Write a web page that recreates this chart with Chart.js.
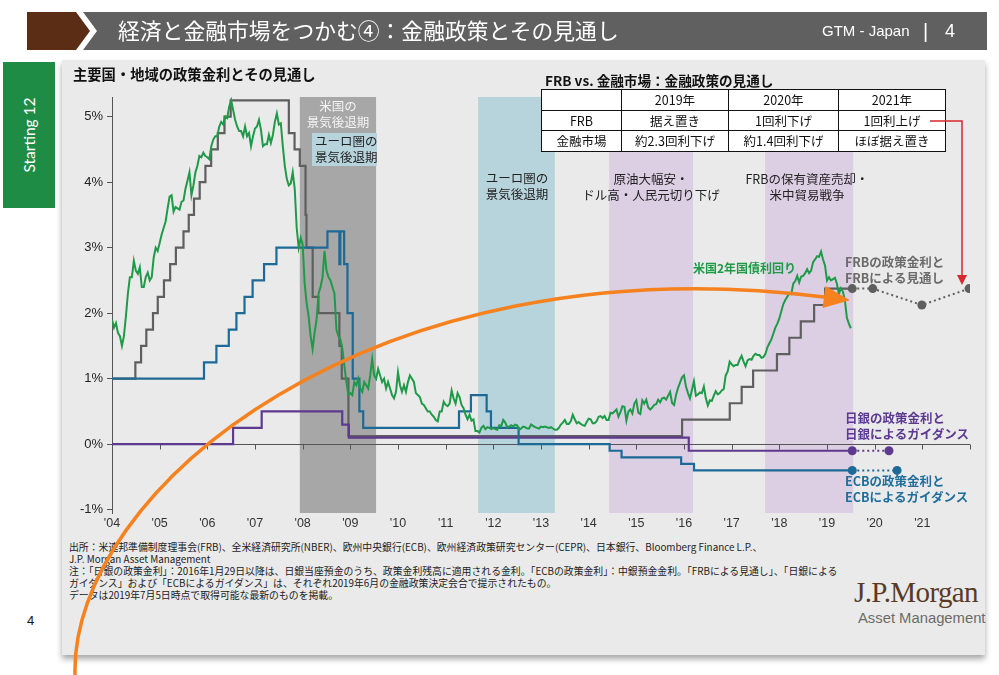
<!DOCTYPE html>
<html><head><meta charset="utf-8">
<script src="https://cdn.jsdelivr.net/npm/chart.js@4.4.0/dist/chart.umd.min.js"></script>
<style>
html,body{margin:0;padding:0;background:#fff;width:999px;height:675px;overflow:hidden;font-family:"Noto Sans CJK JP","Noto Sans",sans-serif;}
.abs{position:absolute;white-space:nowrap;}
#panel{position:absolute;left:62px;top:60px;width:923px;height:595px;background:#eaeaea;box-shadow:0 4px 6px rgba(0,0,0,0.35);z-index:0}
#chart{position:absolute;left:0;top:0;z-index:2}
.hi{z-index:4}
.fn{position:absolute;left:69px;font-size:9.85px;line-height:12px;color:#222;white-space:nowrap;z-index:1}
#tbl{position:absolute;left:541px;top:89px;border-collapse:collapse;background:#fff;z-index:4;font-size:12.5px;color:#111}
#tbl td{border:1.3px solid #111;height:19.5px;padding:0;text-align:center;line-height:19px}
.ann{position:absolute;white-space:nowrap;font-size:12.5px;line-height:16px;z-index:4}
</style></head>
<body>
<svg class="abs" style="left:0;top:0;z-index:5" width="999" height="60">
  <polygon points="27,12 76,12 90,31 76,50 27,50" fill="#5b2d14"/>
  <polygon points="83,12 987,12 987,50 83,50 97,31" fill="#606060"/>
</svg>
<div class="abs" style="left:118px;top:16px;font-size:21.8px;line-height:28px;color:#fff;z-index:6">経済と金融市場をつかむ④：金融政策とその見通し</div>
<div class="abs" style="left:822px;top:21px;font-size:15px;line-height:20px;color:#fff;z-index:6;font-family:'Liberation Sans Narrow','Liberation Sans',sans-serif">GTM - Japan</div>
<div class="abs" style="left:923px;top:19px;font-size:20px;line-height:24px;color:#fff;z-index:6;font-family:'Liberation Sans',sans-serif">|</div>
<div class="abs" style="left:945px;top:19px;font-size:18px;line-height:24px;color:#fff;z-index:6;font-family:'Liberation Sans Narrow','Liberation Sans',sans-serif">4</div>

<div class="abs" style="left:3px;top:62px;width:52px;height:146px;background:#1f8c46;z-index:3"></div>
<div class="abs" style="left:29px;top:135px;transform:translate(-50%,-50%) rotate(-90deg);font-family:Lato,sans-serif;font-size:15.5px;color:#fff;z-index:4">Starting 12</div>
<div class="abs" style="left:27px;top:613px;font-size:13px;color:#111;font-family:'Liberation Sans',sans-serif">4</div>

<div id="panel"></div>

<div class="abs" style="left:73px;top:64px;font-size:14.3px;line-height:20px;font-weight:bold;color:#111;z-index:4">主要国・地域の政策金利とその見通し</div>

<div class="fn" style="top:541px">出所：米連邦準備制度理事会(FRB)、全米経済研究所(NBER)、欧州中央銀行(ECB)、欧州経済政策研究センター(CEPR)、日本銀行、Bloomberg Finance L.P.、</div>
<div class="fn" style="top:553px">J.P. Morgan Asset Management</div>
<div class="fn" style="top:565px">注：「日銀の政策金利」：2016年1月29日以降は、日銀当座預金のうち、政策金利残高に適用される金利。「ECBの政策金利」：中銀預金金利。「FRBによる見通し」、「日銀による</div>
<div class="fn" style="top:577px">ガイダンス」および「ECBによるガイダンス」は、それぞれ2019年6月の金融政策決定会合で提示されたもの。</div>
<div class="fn" style="top:589px">データは2019年7月5日時点で取得可能な最新のものを掲載。</div>

<div class="abs" style="left:854px;top:574px;font-family:'Liberation Serif','DejaVu Serif',serif;font-size:29px;line-height:36px;color:#5a3a26;z-index:1;letter-spacing:-0.6px">J.P.Morgan</div>
<div class="abs" style="left:858px;top:609px;font-family:'Liberation Sans',sans-serif;font-size:14.8px;line-height:18px;color:#6b6b6b;z-index:1">Asset Management</div>

<canvas id="chart" width="999" height="675"></canvas>

<div class="abs hi" style="left:545px;top:71px;font-size:13.6px;line-height:18px;font-weight:bold;color:#111">FRB vs. 金融市場：金融政策の見通し</div>
<table id="tbl">
<tr><td style="width:79px"></td><td style="width:106px">2019年</td><td style="width:109px">2020年</td><td style="width:106px">2021年</td></tr>
<tr><td>FRB</td><td>据え置き</td><td>1回利下げ</td><td>1回利上げ</td></tr>
<tr><td>金融市場</td><td>約2.3回利下げ</td><td>約1.4回利下げ</td><td>ほぼ据え置き</td></tr>
</table>

<div class="ann" style="left:338px;top:98px;transform:translateX(-50%);text-align:center;color:#f4f4f4;">米国の<br>景気後退期</div>
<div class="ann" style="left:312px;top:133px;width:65px;height:33px;background:#b7d4dc;color:#222;padding-left:3px;box-sizing:border-box;line-height:15.5px;font-size:12.5px">ユーロ圏の<br>景気後退期</div>
<div class="ann" style="left:517px;top:170px;transform:translateX(-50%);text-align:center;color:#222">ユーロ圏の<br>景気後退期</div>
<div class="ann" style="left:651px;top:171px;transform:translateX(-50%);text-align:center;color:#222">原油大幅安・<br>ドル高・人民元切り下げ</div>
<div class="ann" style="left:807px;top:171px;transform:translateX(-50%);text-align:center;color:#222">FRBの保有資産売却・<br>米中貿易戦争</div>
<div class="ann" style="left:693px;top:260px;color:#1f9a48;font-weight:bold;font-size:12px">米国2年国債利回り</div>
<div class="ann" style="left:845px;top:254px;color:#6b6b6b;font-weight:bold">FRBの政策金利と<br>FRBによる見通し</div>
<div class="ann" style="left:845px;top:410px;color:#5b3990;font-weight:bold">日銀の政策金利と<br>日銀によるガイダンス</div>
<div class="ann" style="left:845px;top:473px;color:#1f6e9c;font-weight:bold">ECBの政策金利と<br>ECBによるガイダンス</div>

<svg class="abs" style="left:0;top:0;z-index:6;pointer-events:none" width="999" height="675">
  <polyline points="930,121 962,121 962,276" fill="none" stroke="#d7282f" stroke-width="1.5"/>
  <polygon points="957,275 967,275 962,285" fill="#d7282f"/>
</svg>

<script>
// ---------- DATA ----------
const xTickLabels = ["'04","'05","'06","'07","'08","'09","'10","'11","'12","'13","'14","'15","'16","'17","'18","'19","'20","'21"];

// Fed funds target (decimal year of change, new rate %)
const fedDates = [2004.0,2004.49,2004.61,2004.72,2004.86,2004.96,2005.09,2005.22,2005.34,2005.50,2005.61,2005.72,2005.84,2005.96,2006.08,2006.22,2006.36,2006.49,2007.71,2007.83,2007.94,2008.06,2008.08,2008.21,2008.33,2008.77,2008.82,2008.96,2015.96,2016.96,2017.21,2017.45,2017.95,2018.21,2018.45,2018.73,2018.96,2019.53];
const fedRates = [1.0,1.25,1.5,1.75,2.0,2.25,2.5,2.75,3.0,3.25,3.5,3.75,4.0,4.25,4.5,4.75,5.0,5.25,4.75,4.5,4.25,3.5,3.0,2.25,2.0,1.5,1.0,0.125,0.375,0.625,0.875,1.125,1.375,1.625,1.875,2.125,2.375,2.375];
const fedOutlookDates = [2019.53,2019.96,2020.99,2021.98];
const fedOutlookRates = [2.375,2.375,2.125,2.375];

// ECB deposit facility rate
const ecbDates = [2004.0,2005.93,2006.19,2006.45,2006.61,2006.78,2006.95,2007.19,2007.45,2008.52,2008.77,2008.79,2008.87,2008.94,2009.05,2009.19,2009.27,2011.28,2011.53,2011.86,2011.95,2012.53,2014.44,2014.69,2015.94,2016.21,2019.53];
const ecbRates = [1.0,1.25,1.5,1.75,2.0,2.25,2.5,2.75,3.0,3.25,2.75,3.25,2.75,2.0,1.0,0.5,0.25,0.5,0.75,0.5,0.25,0.0,-0.1,-0.2,-0.3,-0.4,-0.4];
const ecbGuideDates = [2019.53,2020.47];
const ecbGuideRates = [-0.4,-0.4];

// BOJ policy rate
const bojDates = [2004.0,2006.54,2007.14,2008.83,2008.97,2016.1,2019.53];
const bojRates = [0.0,0.25,0.5,0.3,0.1,-0.1,-0.1];
const bojGuideDates = [2019.53,2020.3];
const bojGuideRates = [-0.1,-0.1];

// US 2-year Treasury yield, twice a month from Jan 2004
const ust2yStart = 2004;
const ust2y2004 = [1.90,1.78,1.85,1.70,1.65,1.50,1.65,1.95,2.30,2.55,2.55,2.80,2.65,2.60,2.70,2.40,2.40,2.55,2.62,2.50,2.55,2.85,3.00,2.95];
const ust2y2005 = [3.07,3.20,3.30,3.40,3.60,3.78,3.80,3.55,3.62,3.60,3.58,3.70,3.72,3.90,4.02,4.15,3.80,3.95,4.15,4.25,4.40,4.38,4.45,4.40];
const ust2y2006 = [4.38,4.35,4.55,4.65,4.70,4.70,4.85,4.92,4.88,5.00,4.98,5.15,5.25,5.10,4.95,4.85,4.78,4.78,4.70,4.85,4.70,4.75,4.55,4.70];
const ust2y2007 = [4.82,4.85,4.95,4.80,4.55,4.58,4.58,4.72,4.60,4.72,4.92,5.05,4.88,4.90,4.55,4.25,4.05,3.95,3.98,4.15,3.90,3.30,3.00,3.15];
const ust2y2008 = [3.05,2.45,2.15,1.95,1.65,1.45,1.70,1.90,2.30,2.40,2.55,2.95,2.65,2.55,2.50,2.40,2.30,1.75,1.65,1.60,1.45,1.20,0.95,0.75];
const ust2y2009 = [0.78,0.75,0.95,0.90,1.00,0.85,0.80,0.95,0.90,0.85,1.05,1.30,1.05,1.00,1.15,1.05,0.95,1.00,0.85,0.95,0.85,0.75,0.70,0.80];
const ust2y2010 = [1.10,0.90,0.80,0.90,0.80,0.95,1.05,1.00,0.95,0.78,0.75,0.72,0.62,0.60,0.55,0.50,0.50,0.45,0.42,0.37,0.35,0.50,0.50,0.65];
const ust2y2011 = [0.60,0.58,0.62,0.82,0.70,0.62,0.78,0.72,0.60,0.55,0.45,0.38,0.45,0.36,0.38,0.20,0.20,0.18,0.25,0.28,0.23,0.26,0.25,0.23];
const ust2y2012 = [0.25,0.23,0.22,0.29,0.28,0.37,0.33,0.26,0.27,0.29,0.27,0.30,0.29,0.22,0.24,0.27,0.26,0.24,0.24,0.30,0.28,0.26,0.25,0.24];
const ust2y2013 = [0.27,0.26,0.27,0.26,0.25,0.26,0.24,0.22,0.22,0.25,0.30,0.33,0.37,0.31,0.31,0.35,0.45,0.38,0.32,0.34,0.31,0.29,0.28,0.34];
const ust2y2014 = [0.39,0.38,0.32,0.32,0.35,0.42,0.43,0.40,0.43,0.37,0.37,0.48,0.47,0.50,0.53,0.42,0.49,0.58,0.57,0.36,0.50,0.53,0.47,0.62];
const ust2y2015 = [0.67,0.48,0.46,0.67,0.62,0.68,0.56,0.53,0.56,0.60,0.61,0.68,0.64,0.70,0.71,0.68,0.74,0.80,0.63,0.60,0.75,0.86,0.94,1.02];
const ust2y2016 = [1.05,0.88,0.78,0.70,0.83,0.96,0.74,0.76,0.79,0.78,0.88,0.70,0.59,0.67,0.66,0.74,0.81,0.76,0.78,0.82,0.84,1.05,1.11,1.26];
const ust2y2017 = [1.22,1.19,1.21,1.21,1.29,1.35,1.26,1.19,1.28,1.30,1.29,1.35,1.38,1.36,1.36,1.32,1.33,1.38,1.48,1.54,1.60,1.69,1.78,1.84];
const ust2y2018 = [1.92,2.03,2.14,2.20,2.25,2.30,2.29,2.45,2.49,2.57,2.47,2.56,2.57,2.61,2.67,2.61,2.65,2.78,2.82,2.87,2.86,2.94,2.82,2.73];
const ust2y2019 = [2.50,2.55,2.50,2.52,2.54,2.45,2.29,2.38,2.33,2.20,1.93,1.84,1.77];

// Shaded periods (start, end)
const periodStarts = [2008.0, 2007.94, 2011.68, 2014.43, 2017.70];
const periodEnds   = [2009.5, 2009.54, 2013.29, 2016.19, 2019.55];

// ---------- STYLE ----------
const periodColors = ['#b7d4dc','#a7a7a7','#b7d4dc','#dccfe4','#dccfe4'];

const ust2yValues = [].concat(ust2y2004,ust2y2005,ust2y2006,ust2y2007,ust2y2008,ust2y2009,ust2y2010,ust2y2011,ust2y2012,ust2y2013,ust2y2014,ust2y2015,ust2y2016,ust2y2017,ust2y2018,ust2y2019);
const ust2yPoints = ust2yValues.map((v,i)=>({x: ust2yStart + i/24, y: v}));
const pts = (d,v)=>d.map((x,i)=>({x, y:v[i]}));

const bandsPlugin = {
  id:'bands',
  beforeDatasetsDraw(chart){
    const {ctx, chartArea:a, scales:{x,y}} = chart;
    ctx.save();
    periodStarts.forEach((s,i)=>{
      const x0 = x.getPixelForValue(s), x1 = x.getPixelForValue(periodEnds[i]);
      ctx.fillStyle = periodColors[i];
      ctx.fillRect(x0, a.top, x1-x0, a.bottom-a.top);
    });
    const y0 = Math.round(y.getPixelForValue(0)) + 0.5;
    ctx.strokeStyle = '#555'; ctx.lineWidth = 1;
    ctx.beginPath();
    ctx.moveTo(a.left, y0); ctx.lineTo(a.right, y0);
    for (let v = x.min + 1; v <= x.max; v++) {
      const px = Math.round(x.getPixelForValue(v)) + 0.5;
      ctx.moveTo(px, y0); ctx.lineTo(px, y0 + 5);
    }
    ctx.stroke();
    ctx.restore();
  }
};

const arrowPlugin = {
  id:'orangeArrow',
  afterDraw(chart){
    const ctx = chart.ctx;
    const P0=[75,675], P1=[70,490], P2=[372,240], P3=[824,297], tip=[850,300.3];
    ctx.save();
    ctx.strokeStyle = '#f5821f'; ctx.fillStyle = '#f5821f'; ctx.lineWidth = 3.5; ctx.lineCap='round';
    ctx.beginPath(); ctx.moveTo(...P0); ctx.bezierCurveTo(...P1, ...P2, ...P3); ctx.stroke();
    const dx = tip[0]-P3[0], dy = tip[1]-P3[1], L = Math.hypot(dx,dy);
    const nx = -dy/L*11, ny = dx/L*11;
    ctx.beginPath(); ctx.moveTo(...tip); ctx.lineTo(P3[0]+nx, P3[1]+ny); ctx.lineTo(P3[0]-nx, P3[1]-ny); ctx.closePath(); ctx.fill();
    ctx.restore();
  }
};

const dotted = (data, color, order) => ({
  data, borderColor: color, borderWidth: 2, borderDash: [2,3], pointRadius: 4.5,
  pointBackgroundColor: color, pointBorderColor: color, pointBorderWidth: 0, order
});

new Chart(document.getElementById('chart'), {
  type: 'line',
  data: { datasets: [
    { data: ust2yPoints, borderColor:'#1f9a48', borderWidth:2, pointRadius:0, order:0 },
    { data: pts(ecbDates, ecbRates), borderColor:'#1d6a96', borderWidth:2.2, pointRadius:0, stepped:true, order:1 },
    { data: pts(bojDates, bojRates), borderColor:'#5d3a8e', borderWidth:2.2, pointRadius:0, stepped:true, order:2 },
    { data: pts(fedDates, fedRates), borderColor:'#5f5f5f', borderWidth:2.2, pointRadius:0, stepped:true, order:3 },
    dotted(pts(fedOutlookDates, fedOutlookRates), '#5f5f5f', 3),
    dotted(pts(bojGuideDates, bojGuideRates), '#5d3a8e', 2),
    dotted(pts(ecbGuideDates, ecbGuideRates), '#1d6a96', 1)
  ]},
  options: {
    responsive:false, animation:false, devicePixelRatio:1,
    layout:{ padding:{ left:60, top:97, right:29, bottom:142 } },
    plugins:{ legend:{display:false}, tooltip:{enabled:false} },
    scales:{
      x:{ type:'linear', min:2004, max:2022, position:'bottom',
          grid:{display:false, drawTicks:false}, border:{display:false},
          afterFit(s){ s.height = 20; },
          ticks:{ stepSize:1, autoSkip:false, maxRotation:0, padding:3, color:'#333',
                  font:{family:"'Liberation Sans Narrow','Liberation Sans',sans-serif", size:12.5},
                  callback:(v)=> xTickLabels[Math.round(v)-2004] ?? '' } },
      y:{ min:-1.05, max:5.3,
          afterFit(s){ s.width = 52; },
          grid:{ display:true, drawOnChartArea:false, drawTicks:true, tickLength:5, color:'#555' },
          border:{ display:true, color:'#555', width:1 },
          ticks:{ stepSize:1, includeBounds:false, padding:4, color:'#222',
                  font:{family:"'Liberation Sans',sans-serif", size:13},
                  callback:(v)=> v + '%' } }
    }
  },
  plugins:[bandsPlugin, arrowPlugin]
});
</script>
</body></html>
